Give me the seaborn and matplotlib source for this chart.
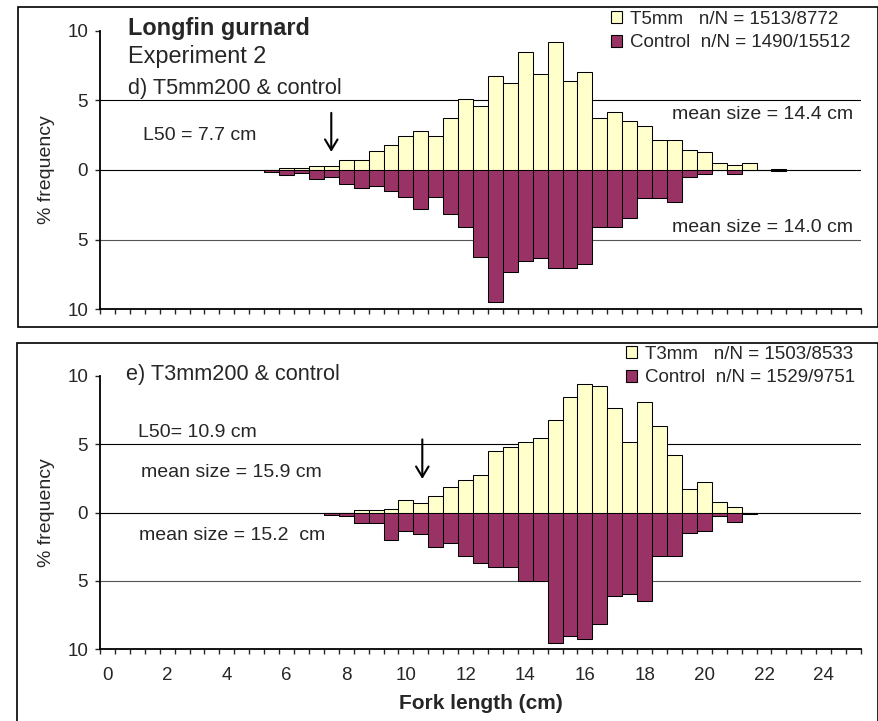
import numpy as np
import matplotlib
matplotlib.use("Agg")
import matplotlib.pyplot as plt
from matplotlib.patches import Patch, Rectangle
from matplotlib.ticker import FuncFormatter
import seaborn as sns

# --- data (percent frequency per 0.5 cm fork-length class) ---
# panel d) T5mm200 vs control, classes 5.5 .. 22.5 cm
d_start = 5.5
d_t5 = [0.03, 0.14, 0.14, 0.30, 0.30, 0.75, 0.75, 1.37, 1.78, 2.42,
        2.80, 2.42, 3.70, 5.10, 4.60, 6.78, 6.28, 8.44, 6.92, 9.20,
        6.40, 7.04, 3.72, 4.19, 3.55, 3.18, 2.16, 2.16, 1.40, 1.28,
        0.52, 0.38, 0.52, 0.00, 0.10]
d_ctrl = [0.15, 0.38, 0.25, 0.66, 0.47, 1.00, 1.30, 1.14, 1.54, 1.92,
          2.82, 1.92, 3.18, 4.10, 6.28, 9.48, 7.30, 6.52, 6.35, 7.00,
          7.00, 6.78, 4.10, 4.10, 3.46, 2.04, 2.04, 2.27, 0.47, 0.26,
          0.00, 0.26, 0.00, 0.00, 0.05]

# panel e) T3mm200 vs control, classes 7.5 .. 21.5 cm
e_start = 7.5
e_t3 = [0.00, 0.00, 0.18, 0.18, 0.28, 0.91, 0.66, 1.20, 1.84, 2.35,
        2.77, 4.49, 4.78, 5.15, 5.42, 6.74, 8.46, 9.36, 9.24, 7.65,
        5.15, 8.06, 6.32, 4.22, 1.69, 2.25, 0.78, 0.37, 0.00]
e_ctrl = [0.15, 0.29, 0.80, 0.80, 1.99, 1.32, 1.59, 2.52, 2.23, 3.19,
          3.68, 4.00, 4.00, 5.02, 5.03, 9.51, 9.00, 9.27, 8.16, 6.08,
          5.96, 6.50, 3.16, 3.16, 1.47, 1.35, 0.27, 0.69, 0.12]

d_len = d_start + 0.5 * np.arange(len(d_t5))
e_len = e_start + 0.5 * np.arange(len(e_t3))

x_labels = list(range(0, 25, 2))
y_ticks = [-10, -5, 0, 5, 10]

legend_d = ["T5mm   n/N = 1513/8772", "Control  n/N = 1490/15512"]
legend_e = ["T3mm   n/N = 1503/8533", "Control  n/N = 1529/9751"]
l50_arrow = [7.5, 10.55]   # arrow positions as drawn (cm)

YELLOW = "#FFFFCC"
MAROON = "#993366"

sns.set_style("white")
plt.rcParams['font.family'] = ['Liberation Sans', 'DejaVu Sans']

W, H = 879, 721
fig = plt.figure(figsize=(W / 100, H / 100), dpi=100)


def fx(px):
    return px / W


def fy(py):
    return 1 - py / H


ax1 = fig.add_axes([fx(100), fy(309.3), fx(861) - fx(100), fy(30.7) - fy(309.3)])
ax2 = fig.add_axes([fx(100), fy(649.3), fx(861) - fx(100), fy(375.7) - fy(649.3)])

panels = [(ax1, d_len, d_t5, d_ctrl), (ax2, e_len, e_t3, e_ctrl)]
for ax, lens, up, down in panels:
    for yv, c in [(5, "black"), (0, "black"), (-5, "#555555")]:
        ax.axhline(yv, color=c, lw=0.8, zorder=0.5)
    sns.barplot(x=lens, y=up, native_scale=True, width=1, color=YELLOW,
                saturation=1, edgecolor="black", linewidth=0.75,
                errorbar=None, ax=ax)
    sns.barplot(x=lens, y=[-v for v in down], native_scale=True, width=1,
                color=MAROON, saturation=1, edgecolor="black", linewidth=0.75,
                errorbar=None, ax=ax)
    ax.set_xlim(-0.25, 25.25)
    ax.set_ylim(-10, 10)
    ax.set_yticks(y_ticks)
    ax.yaxis.set_major_formatter(FuncFormatter(lambda v, p: f"{abs(v):g}"))
    ax.set_xticks(x_labels)
    ax.set_xticks(np.arange(-0.25, 25.5, 0.5), minor=True)
    ax.tick_params(axis="y", which="major", direction="out", length=3.6,
                   width=1, pad=5, labelsize=13.5, left=True)
    ax.tick_params(axis="x", which="major", length=0, pad=13, labelsize=13.5)
    ax.tick_params(axis="x", which="minor", direction="out", length=3.6,
                   width=1, bottom=True)
    for s in ["top", "right"]:
        ax.spines[s].set_visible(False)
    for s in ["left", "bottom"]:
        ax.spines[s].set_linewidth(1.3)
        ax.spines[s].set_color("black")
    ax.set_ylabel("% frequency", fontsize=14)
    ax.yaxis.set_label_coords(-0.059, 0.5)
    ax.set_xlabel("")

ax1.tick_params(axis="x", which="major", labelbottom=False)
ax2.set_xlabel("Fork length (cm)", fontsize=15, fontweight="bold")
ax2.xaxis.set_label_coords(0.5, -0.165)

# L50 arrows
ax1.annotate("", xy=(l50_arrow[0], 1.1), xytext=(l50_arrow[0], 4.3),
             arrowprops=dict(arrowstyle="->, head_length=0.75, head_width=0.45",
                             lw=1.5, color="black", mutation_scale=10))
ax2.annotate("", xy=(l50_arrow[1], 2.25), xytext=(l50_arrow[1], 5.55),
             arrowprops=dict(arrowstyle="->, head_length=0.75, head_width=0.45",
                             lw=1.5, color="black", mutation_scale=10))

# texts
def ftext(px, py, s, **kw):
    fig.text(fx(px), fy(py), s, va="baseline", **kw)


ftext(128, 35, "Longfin gurnard", fontsize=16.9, fontweight="bold")
ftext(128, 63.3, "Experiment 2", fontsize=16.9)
ftext(128, 94, "d) T5mm200 & control", fontsize=15.6)
ftext(143, 140, "L50 = 7.7 cm", fontsize=14)
ftext(853, 119, "mean size = 14.4 cm", fontsize=14, ha="right")
ftext(853, 231.7, "mean size = 14.0 cm", fontsize=14, ha="right")

ftext(126, 380, "e) T3mm200 & control", fontsize=15.6)
ftext(138, 437.3, "L50= 10.9 cm", fontsize=14)
ftext(140.7, 476.7, "mean size = 15.9 cm", fontsize=14)
ftext(138.7, 540, "mean size = 15.2  cm", fontsize=14)

# legends
for ax, labels, (lx, ly) in [(ax1, legend_d, (611, 11)), (ax2, legend_e, (626, 346))]:
    handles = [Patch(facecolor=YELLOW, edgecolor="black", lw=0.8),
               Patch(facecolor=MAROON, edgecolor="black", lw=0.8)]
    ax.legend(handles, labels, loc="upper left",
              bbox_to_anchor=(fx(lx), fy(ly)), bbox_transform=fig.transFigure,
              frameon=False, fontsize=13.5, borderpad=0, borderaxespad=0,
              handlelength=0.6, handleheight=0.6, handletextpad=0.43,
              labelspacing=0.34)

# panel frames
fig.patches.append(Rectangle((fx(18), fy(326.7)), fx(878) - fx(18), fy(7) - fy(326.7),
                             transform=fig.transFigure, fill=False,
                             edgecolor="black", lw=1.2))
fig.patches.append(Rectangle((fx(17.3), -0.01), fx(878) - fx(17.3), fy(343.3) + 0.01,
                             transform=fig.transFigure, fill=False,
                             edgecolor="black", lw=1.2))

fig.savefig("out.png", dpi=100)
